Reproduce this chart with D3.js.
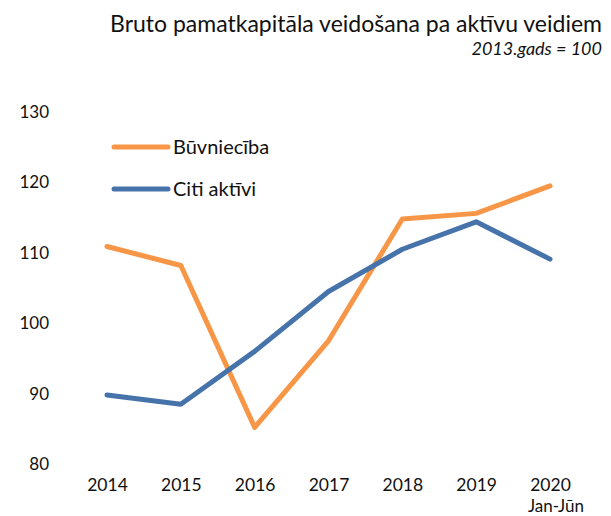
<!DOCTYPE html>
<html>
<head>
<meta charset="utf-8">
<script src="https://cdn.jsdelivr.net/npm/d3@7"></script>
<style>
  body { margin: 0; background: #fff; }
  svg { display: block; font-family: Lato, "Open Sans", sans-serif; }
</style>
</head>
<body>
<svg id="chart" width="611" height="516"></svg>
<script>
// ─── data ─────────────────────────────────────────────────────────────
const years = ["2014", "2015", "2016", "2017", "2018", "2019", "2020"];
const buvniecibaValues = [110.9, 108.2, 85.2, 97.5, 114.8, 115.6, 119.5];
const citiValues       = [89.8, 88.5, 96.0, 104.5, 110.5, 114.4, 109.1];
const yTicks = [80, 90, 100, 110, 120, 130];

const series = [
  { name: "Būvniecība", values: buvniecibaValues, color: "#F79646" },
  { name: "Citi aktīvi", values: citiValues,      color: "#4673AA" },
];

// ─── layout ───────────────────────────────────────────────────────────
const svg = d3.select("#chart");

const x = d3.scalePoint().domain(years).range([107, 550]).padding(0);
const y = d3.scaleLinear().domain([80, 130]).range([464, 112]);

// title
svg.append("text")
  .attr("x", 602).attr("y", 32)
  .attr("text-anchor", "end")
  .style("font-size", "23px").style("fill", "#111")
  .text("Bruto pamatkapitāla veidošana pa aktīvu veidiem");

svg.append("text")
  .attr("x", 602).attr("y", 55)
  .attr("text-anchor", "end")
  .style("font-size", "18px").style("font-style", "italic").style("fill", "#111")
  .text("2013.gads = 100");

// y axis (labels only)
const yAxis = svg.append("g")
  .attr("transform", "translate(49,0)")
  .call(d3.axisLeft(y).tickValues(yTicks).tickSize(0).tickPadding(0));
yAxis.select(".domain").remove();
yAxis.selectAll("text")
  .style("font-size", "17px").style("fill", "#111")
  .style("font-family", "Lato, sans-serif");

// x axis (labels only)
const xAxis = svg.append("g")
  .attr("transform", "translate(0,479)")
  .call(d3.axisBottom(x).tickSize(0).tickPadding(0));
xAxis.select(".domain").remove();
xAxis.selectAll("text")
  .style("font-size", "17.5px").style("fill", "#111")
  .style("font-family", "Lato, sans-serif");

svg.append("text")
  .attr("x", x("2020") + 6).attr("y", 512)
  .attr("text-anchor", "middle")
  .style("font-size", "17px").style("fill", "#111")
  .text("Jan-Jūn");

// lines
const line = d3.line()
  .x((d, i) => x(years[i]))
  .y(d => y(d));

series.forEach(s => {
  svg.append("path")
    .datum(s.values)
    .attr("d", line)
    .attr("fill", "none")
    .attr("stroke", s.color)
    .attr("stroke-width", 5)
    .attr("stroke-linejoin", "round")
    .attr("stroke-linecap", "round");
});

// legend
const legend = svg.append("g");
series.forEach((s, i) => {
  const ly = 147 + i * 42;
  legend.append("line")
    .attr("x1", 114).attr("x2", 168)
    .attr("y1", ly).attr("y2", ly)
    .attr("stroke", s.color).attr("stroke-width", 5)
    .attr("stroke-linecap", "round");
  legend.append("text")
    .attr("x", 173).attr("y", ly + 7)
    .style("font-size", "20px").style("fill", "#111")
    .text(s.name);
});
</script>
</body>
</html>
